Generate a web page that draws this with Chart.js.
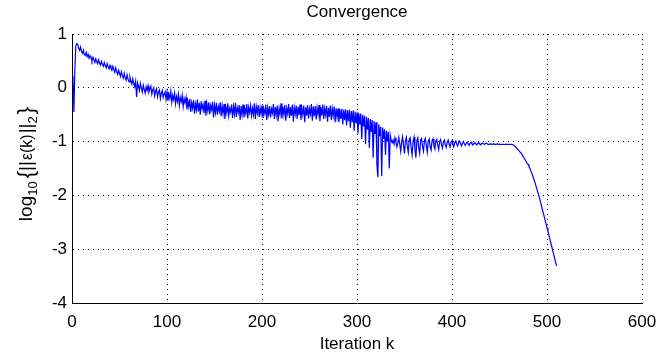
<!DOCTYPE html>
<html>
<head>
<meta charset="utf-8">
<script src="https://cdn.jsdelivr.net/npm/chart.js@4/dist/chart.umd.min.js"></script>
<style>
  html, body { margin: 0; padding: 0; background: #fff; }
  #wrap { width: 670px; height: 358px; position: relative; }
</style>
</head>
<body>
<div id="wrap"><canvas id="conv"></canvas></div>
<script>
// one value per iteration k = 0 .. 510
const iterationStep = 1;

// log10 of the error norm (rows of 20 iterations)
const logErrorNorm = [
  0.20, 0.22, -0.45, 0.35, 0.78, 0.82, 0.81, 0.74, 0.70, 0.76, 0.68, 0.64, 0.70, 0.62, 0.60, 0.66, 0.58, 0.62, 0.55, 0.60,
  0.56, 0.50, 0.57, 0.52, 0.47, 0.54, 0.49, 0.45, 0.52, 0.46, 0.42, 0.49, 0.44, 0.40, 0.47, 0.41, 0.37, 0.45, 0.39, 0.35,
  0.42, 0.37, 0.33, 0.40, 0.34, 0.29, 0.37, 0.30, 0.25, 0.33, 0.27, 0.21, 0.30, 0.23, 0.18, 0.27, 0.19, 0.14, 0.24, 0.16,
  0.11, 0.20, 0.12, 0.07, 0.17, 0.08, 0.02, 0.12, -0.17, 0.09, 0.03, -0.05, 0.08, 0.00, -0.08, 0.05, -0.03, -0.10, 0.02, -0.05,
  0.04, -0.08, -0.02, 0.03, -0.12, -0.04, 0.00, -0.15, -0.06, -0.02, -0.17, -0.08, -0.04, -0.20, -0.10, -0.05, -0.18, -0.12, -0.07, -0.22,
  -0.08, -0.24, -0.12, -0.20, -0.06, -0.27, -0.14, -0.22, -0.10, -0.30, -0.16, -0.25, -0.12, -0.33, -0.18, -0.26, -0.14, -0.35, -0.20, -0.28,
  -0.18, -0.40, -0.25, -0.36, -0.21, -0.45, -0.27, -0.38, -0.23, -0.48, -0.30, -0.41, -0.22, -0.44, -0.28, -0.50, -0.25, -0.39, -0.31, -0.47,
  -0.24, -0.52, -0.30, -0.43, -0.27, -0.49, -0.33, -0.41, -0.26, -0.55, -0.32, -0.46, -0.28, -0.50, -0.35, -0.44, -0.27, -0.53, -0.33, -0.48,
  -0.30, -0.58, -0.36, -0.47, -0.29, -0.52, -0.38, -0.45, -0.31, -0.56, -0.35, -0.49, -0.28, -0.54, -0.37, -0.46, -0.32, -0.60, -0.34, -0.50,
  -0.31, -0.55, -0.39, -0.48, -0.30, -0.57, -0.36, -0.46, -0.33, -0.52, -0.38, -0.50, -0.29, -0.58, -0.35, -0.47, -0.32, -0.54, -0.37, -0.49,
  -0.33, -0.56, -0.40, -0.48, -0.31, -0.60, -0.37, -0.50, -0.34, -0.55, -0.39, -0.47, -0.30, -0.58, -0.36, -0.51, -0.33, -0.62, -0.38, -0.49,
  -0.29, -0.57, -0.35, -0.50, -0.32, -0.61, -0.38, -0.48, -0.30, -0.56, -0.36, -0.52, -0.31, -0.63, -0.37, -0.49, -0.33, -0.58, -0.35, -0.51,
  -0.31, -0.60, -0.38, -0.50, -0.33, -0.64, -0.36, -0.52, -0.32, -0.57, -0.39, -0.49, -0.30, -0.61, -0.35, -0.53, -0.34, -0.59, -0.37, -0.50,
  -0.32, -0.62, -0.36, -0.52, -0.31, -0.58, -0.38, -0.50, -0.34, -0.63, -0.37, -0.54, -0.33, -0.60, -0.39, -0.52, -0.35, -0.64, -0.38, -0.55,
  -0.38, -0.64, -0.40, -0.58, -0.39, -0.68, -0.41, -0.60, -0.40, -0.70, -0.42, -0.62, -0.41, -0.74, -0.43, -0.64, -0.42, -0.80, -0.44, -0.66,
  -0.46, -0.85, -0.48, -0.68, -0.48, -0.95, -0.50, -0.72, -0.52, -1.05, -0.54, -0.78, -0.56, -1.12, -0.58, -0.82, -0.60, -1.30, -0.62, -0.86,
  -0.64, -1.45, -1.66, -0.68, -0.90, -0.72, -1.64, -0.74, -0.95, -0.77, -1.25, -0.80, -1.00, -0.82, -1.50, -0.88, -0.98, -1.02, -0.97, -1.05,
  -0.93, -1.00, -1.10, -1.02, -0.92, -1.05, -1.18, -1.00, -0.91, -1.08, -1.22, -0.98, -0.92, -1.10, -1.20, -0.96, -0.93, -1.12, -1.25, -1.00,
  -0.92, -1.15, -1.30, -0.98, -0.93, -1.12, -1.22, -0.97, -0.94, -1.10, -1.18, -0.98, -0.94, -1.08, -1.20, -0.99, -0.95, -1.10, -1.16, -0.98,
  -0.95, -1.08, -1.14, -0.99, -0.96, -1.07, -1.15, -1.00, -0.96, -1.06, -1.12, -1.00, -0.97, -1.06, -1.11, -1.01, -0.97, -1.05, -1.10, -1.01,
  -0.98, -1.05, -1.09, -1.02, -0.99, -1.05, -1.08, -1.02, -0.99, -1.04, -1.08, -1.03, -1.00, -1.04, -1.07, -1.03, -1.01, -1.04, -1.07, -1.03,
  -1.01, -1.04, -1.06, -1.04, -1.02, -1.04, -1.06, -1.04, -1.02, -1.04, -1.06, -1.04, -1.03, -1.04, -1.05, -1.04, -1.03, -1.04, -1.05, -1.05,
  -1.04, -1.04, -1.05, -1.05, -1.04, -1.05, -1.05, -1.05, -1.04, -1.05, -1.05, -1.05, -1.05, -1.05, -1.05, -1.05, -1.05, -1.05, -1.05, -1.05,
  -1.05, -1.05, -1.05, -1.05, -1.06, -1.07, -1.08, -1.10, -1.12, -1.14, -1.16, -1.18, -1.20, -1.22, -1.25, -1.28, -1.31, -1.34, -1.37, -1.40,
  -1.42, -1.46, -1.50, -1.54, -1.59, -1.64, -1.69, -1.74, -1.80, -1.86, -1.92, -1.98, -2.04, -2.11, -2.18, -2.25, -2.32, -2.39, -2.46, -2.53,
  -2.60, -2.67, -2.74, -2.81, -2.88, -2.95, -3.02, -3.09, -3.16, -3.24, -3.31
];

const xTicks = [0, 100, 200, 300, 400, 500, 600];
const yTicks = [-4, -3, -2, -1, 0, 1];

const FONT = '"Liberation Sans", Arial, sans-serif';

// title + y label with subscripts, drawn by hand
const labelsPlugin = {
  id: 'labels',
  afterDraw(chart) {
    const c = chart.ctx;
    const area = chart.chartArea;
    c.save();
    c.fillStyle = '#000';
    c.font = '17px ' + FONT;
    c.textAlign = 'center';
    c.textBaseline = 'alphabetic';
    c.fillText('Convergence', (area.left + area.right) / 2, 17);

    // y label, rotated
    const parts = [
      { t: 'log', size: 19, dy: 0, gap: 0 },
      { t: '10', size: 13, dy: 5, gap: 3 },
      { t: '{', size: 22, dy: 1, gap: 0 },
      { t: '||', size: 19, dy: 0, gap: 1 },
      { t: 'ε(k)', size: 16, dy: 0, gap: 1 },
      { t: '||', size: 19, dy: 0, gap: 0 },
      { t: '2', size: 13, dy: 5, gap: 2 },
      { t: '}', size: 22, dy: 1, gap: 0 }
    ];
    let total = 0;
    parts.forEach(p => { c.font = p.size + 'px ' + FONT; p.w = c.measureText(p.t).width + p.gap; total += p.w; });
    c.translate(32, 164);
    c.rotate(-Math.PI / 2);
    c.textAlign = 'left';
    let x = -total / 2;
    parts.forEach(p => {
      c.font = p.size + 'px ' + FONT;
      c.fillText(p.t, x, p.dy);
      x += p.w;
    });
    c.restore();
  }
};

const points = logErrorNorm.map((v, i) => ({ x: i * iterationStep, y: v }));

new Chart(document.getElementById('conv'), {
  type: 'line',
  data: {
    datasets: [{
      data: points,
      borderColor: '#0000ff',
      borderWidth: 1.2,
      pointRadius: 0,
      tension: 0,
      fill: false
    }]
  },
  options: {
    responsive: true,
    maintainAspectRatio: false,
    animation: false,
    layout: { padding: { top: 34, right: 28, left: 0, bottom: 0 } },
    plugins: {
      legend: { display: false },
      tooltip: { enabled: false }
    },
    scales: {
      x: {
        type: 'linear',
        min: 0,
        max: 600,
        afterBuildTicks: s => { s.ticks = xTicks.map(v => ({ value: v })); },
        afterFit: s => { s.height = 55; },
        grid: { color: '#000', lineWidth: 1, drawTicks: false },
        border: { display: true, color: '#000', width: 1, dash: [1, 4] },
        ticks: { color: '#000', padding: 9, maxRotation: 0, font: { family: FONT, size: 17 } },
        title: { display: true, text: 'Iteration k', color: '#000', font: { family: FONT, size: 17 }, padding: { top: 0, bottom: 3 } }
      },
      y: {
        min: -4,
        max: 1,
        afterBuildTicks: s => { s.ticks = yTicks.map(v => ({ value: v })); },
        afterFit: s => { s.width = 72; },
        grid: { color: '#000', lineWidth: 1, drawTicks: false },
        border: { display: true, color: '#000', width: 1, dash: [1, 4] },
        ticks: { color: '#000', padding: 5, font: { family: FONT, size: 17 } }
      }
    }
  },
  plugins: [labelsPlugin]
});
</script>
</body>
</html>
